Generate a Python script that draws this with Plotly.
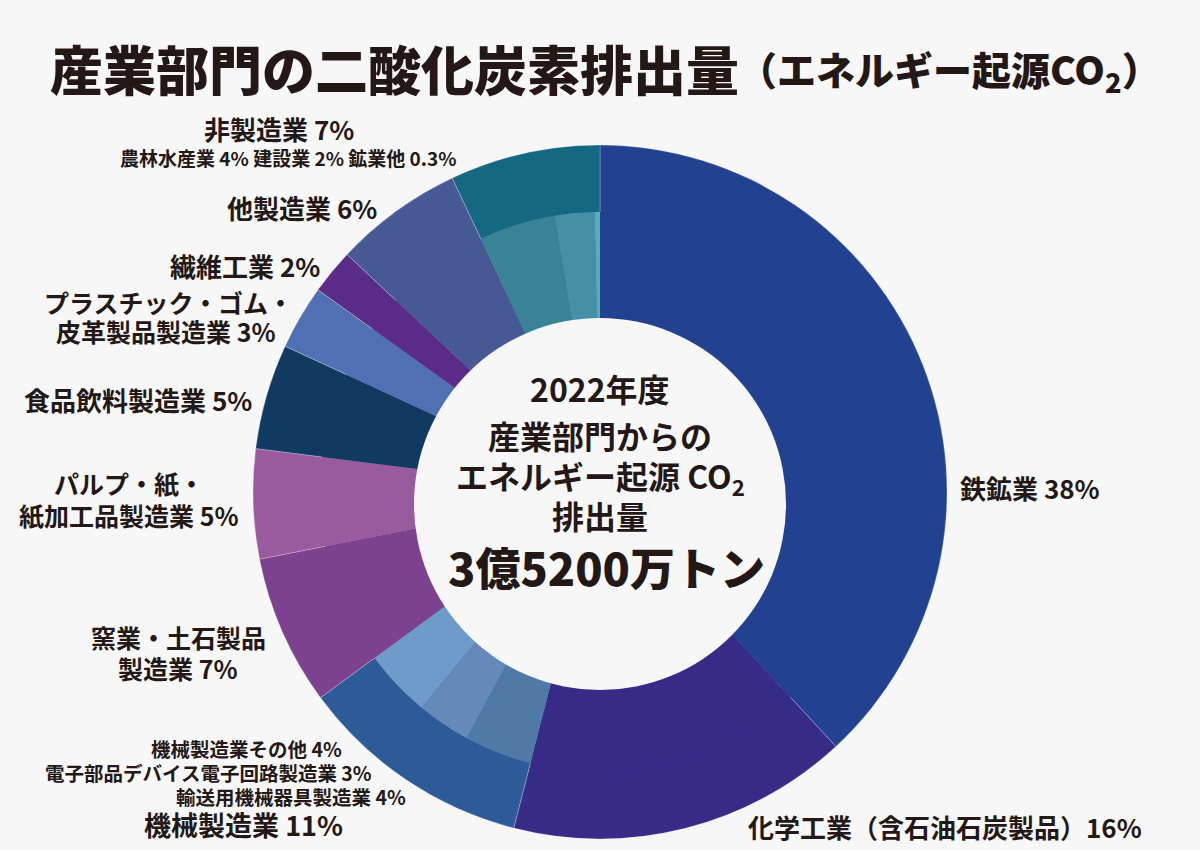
import plotly.graph_objects as go

# main industry categories, clockwise from 12 o'clock
categories = ["鉄鋼業", "化学工業", "機械製造業", "窯業・土石製品製造業", "パルプ・紙・紙加工品製造業",
              "食品飲料製造業", "プラスチック・ゴム・皮革製品製造業", "繊維工業", "他製造業", "非製造業"]
shares = [38.1, 15.9, 10.9, 7.0, 5.1, 4.9, 3.0, 2.1, 6.0, 7.0]
colors = ["#224291", "#382a87", "#2c5b98", "#7c418f", "#9a5b9e",
          "#113a63", "#5070b3", "#5a2b89", "#465994", "#156882"]

# breakdowns shown in the inner ring
machine_sub = ["輸送用機械器具製造業", "電子部品デバイス電子回路製造業", "機械製造業その他"]
machine_sub_shares = [3.9, 3.1, 3.9]
machine_sub_colors = ["#4f7aa5", "#6589b8", "#6e9bca"]

nonmfg_sub = ["農林水産業", "建設業", "鉱業他"]
nonmfg_sub_shares = [4.4, 2.3, 0.3]
nonmfg_sub_colors = ["#388396", "#4491a6", "#5aaabb"]

W, H = 1200, 850
BG = "#f7f7f7"
INK = "#231815"
FONT = "Noto Sans CJK JP"

# inner ring: same as outer except the two split categories
in_labels, in_values, in_colors = [], [], []
for c, v, col in zip(categories, shares, colors):
    if c == "機械製造業":
        in_labels += machine_sub
        in_values += machine_sub_shares
        in_colors += machine_sub_colors
    elif c == "非製造業":
        in_labels += nonmfg_sub
        in_values += nonmfg_sub_shares
        in_colors += nonmfg_sub_colors
    else:
        in_labels.append(c)
        in_values.append(v)
        in_colors.append(col)


def dom(cx, cy, r):
    # pixel circle -> paper domain
    return dict(x=[(cx - r) / W, (cx + r) / W], y=[1 - (cy + r) / H, 1 - (cy - r) / H])


cx, cy = 600, 492
fig = go.Figure()
fig.add_trace(go.Pie(
    labels=categories, values=shares, sort=False, direction="clockwise", rotation=0,
    marker=dict(colors=colors, line=dict(color="rgba(255,255,255,0.3)", width=0.8)),
    textinfo="none", hoverinfo="label+value", domain=dom(cx, cy, 347), showlegend=False,
))
fig.add_trace(go.Pie(
    labels=in_labels, values=in_values, sort=False, direction="clockwise", rotation=0,
    marker=dict(colors=in_colors, line=dict(width=0)),
    textinfo="none", hoverinfo="label+value", domain=dom(cx, cy, 280), showlegend=False,
))

# centre hole (slightly lower than the ring centre, like the original)
hr, hx, hy = 186, 600, 504
fig.add_shape(type="circle", xref="paper", yref="paper", layer="above",
              x0=(hx - hr) / W, x1=(hx + hr) / W, y0=1 - (hy + hr) / H, y1=1 - (hy - hr) / H,
              fillcolor=BG, line=dict(width=0))


def note(text, x, y, size, anchor="right", weight="bold"):
    fig.add_annotation(text=text, x=x / W, y=1 - y / H, xref="paper", yref="paper",
                       xanchor=anchor, yanchor="middle", showarrow=False,
                       font=dict(family=FONT, size=size, color=INK, weight=weight))


# title
note("産業部門の二酸化炭素排出量", 48, 68, 53, "left", 900)
note("（エネルギー起源CO<sub>2</sub>）", 736, 70, 39, "left", 900)

# labels
note("非製造業 7%", 356, 129, 26)
note("農林水産業 4% 建設業 2% 鉱業他 0.3%", 458, 157, 19)
note("他製造業 6%", 379, 207, 26)
note("繊維工業 2%", 322, 265, 26)
note("プラスチック・ゴム・", 168, 302, 25, "center")
note("皮革製品製造業 3%", 166, 331, 25, "center")
note("食品飲料製造業 5%", 254, 399, 26)
note("パルプ・紙・", 129, 483, 25, "center")
note("紙加工品製造業 5%", 129, 515, 25, "center")
note("窯業・土石製品", 178, 637, 25, "center")
note("製造業 7%", 178, 668, 25, "center")
note("機械製造業その他 4%", 344, 748, 19.5)
note("電子部品デバイス電子回路製造業 3%", 374, 772, 19.5)
note("輸送用機械器具製造業 4%", 408, 796, 19.5)
note("機械製造業 11%", 345, 824, 27)
note("鉄鉱業 38%", 958, 487, 26, "left")
note("化学工業（含石油石炭製品）16%", 746, 826, 26, "left")

# centre text
note("2022年度", 600, 388, 32, "center")
note("産業部門からの", 600, 435, 32, "center")
note("エネルギー起源 CO<sub>2</sub>", 600, 477, 32, "center")
note("排出量", 600, 515, 32, "center")
note("3億5200万トン", 606, 566, 45, "center", 900)

fig.update_layout(
    width=W, height=H, margin=dict(l=0, r=0, t=0, b=0),
    paper_bgcolor=BG, plot_bgcolor=BG,
)

# drop the page's default body margin so the figure sits at the window corner
fig.write_html("out.html", config={"displayModeBar": False},
               post_script="document.body.style.margin='0';"
                           "document.body.style.background='#f7f7f7';")
